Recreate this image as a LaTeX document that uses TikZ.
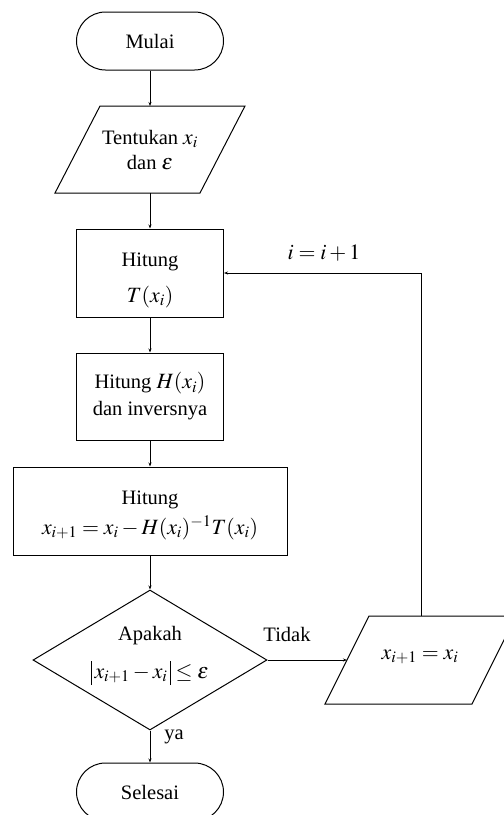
\documentclass[tikz,border=0pt]{standalone}
\usepackage{mathptmx}
\usepackage[no-math]{fontspec}
\setmainfont{Liberation Serif}
\usetikzlibrary{shapes.geometric,arrows.meta}
\newcommand{\mth}[1]{{\fontsize{21.8}{24}\selectfont$#1$}}
\newcommand{\absbar}{\rule[-7pt]{0.9pt}{24pt}}
\begin{document}
\begin{tikzpicture}[x=1pt,y=-1pt, line width=1pt,
  every node/.style={font=\fontsize{20.5}{24}\selectfont},
  term/.style={draw, rectangle, rounded corners=29pt, minimum width=147pt, minimum height=58pt, inner sep=0pt},
  proc/.style={draw, rectangle, minimum height=88pt, inner sep=0pt, align=center},
  dec/.style={draw, diamond, minimum width=234pt, minimum height=140pt, inner sep=0pt, align=center},
  lbl/.style={inner sep=0pt, align=center},
  arr/.style={-{Stealth[length=4pt,width=3pt]}}]
\clip (0,0) rectangle (504,815);
% start
\node[term] (mulai) at (150,41) {Mulai};
% input parallelogram
\draw (100,106) -- (245,106) -- (200,193) -- (55,193) -- cycle;
\coordinate (p1top) at (150,106);
\coordinate (p1bot) at (150,193);
\node[lbl] (tentukan) at (150,150) {Tentukan \mth{x_i}\\[1pt] dan \mth{\varepsilon}};
% process boxes
\node[proc, minimum width=147pt] (hitT) at (150,273) {};
\node[lbl] (hitTtext) at (150,280) {Hitung\\[12pt] \mth{T(x_i)}};
\node[proc, minimum width=147pt, minimum height=87pt] (hitH) at (150,396.5) {Hitung \mth{H(x_i)}\\[3pt] dan inversnya};
\node[proc, minimum width=274pt] (hitX) at (150,511) {};
\node[lbl] (hitXtext) at (150,515) {Hitung\\[6pt] \mth{x_{i+1} = x_i - H(x_i)^{-1}T(x_i)}};
% decision
\node[dec] (cek) at (150,660) {};
\node[lbl] (apakah) at (150,636) {Apakah};
\node[lbl] (cond) at (150,673) {\mth{\absbar\, x_{i+1}-x_i\,\absbar \le \varepsilon}};
% end
\node[term] (selesai) at (150,792) {Selesai};
% update parallelogram
\draw (369,616) -- (516,616) -- (472,704) -- (325,704) -- cycle;
\coordinate (p2top) at (421,616);
\coordinate (p2left) at (347,660);
\node[lbl] (xnew) at (420,657) {\mth{x_{i+1} = x_i}};
% connectors
\draw[arr] (mulai.south) -- (p1top);
\draw[arr] (p1bot) -- (hitT.north);
\draw[arr] (hitT.south) -- (hitH.north);
\draw[arr] (hitH.south) -- (hitX.north);
\draw[arr] (hitX.south) -- (cek.north);
\draw[arr] (cek.south) -- (selesai.north);
\draw[arr] (cek.east) -- (p2left);
\draw[arr] (p2top) |- (hitT.east);
% labels
\node[lbl] (ya) at (174,737) {ya};
\node[lbl] (tidak) at (287,634) {Tidak};
\node[lbl] (inc) at (324,253) {\mth{i = i+1}};
\end{tikzpicture}
\end{document}
